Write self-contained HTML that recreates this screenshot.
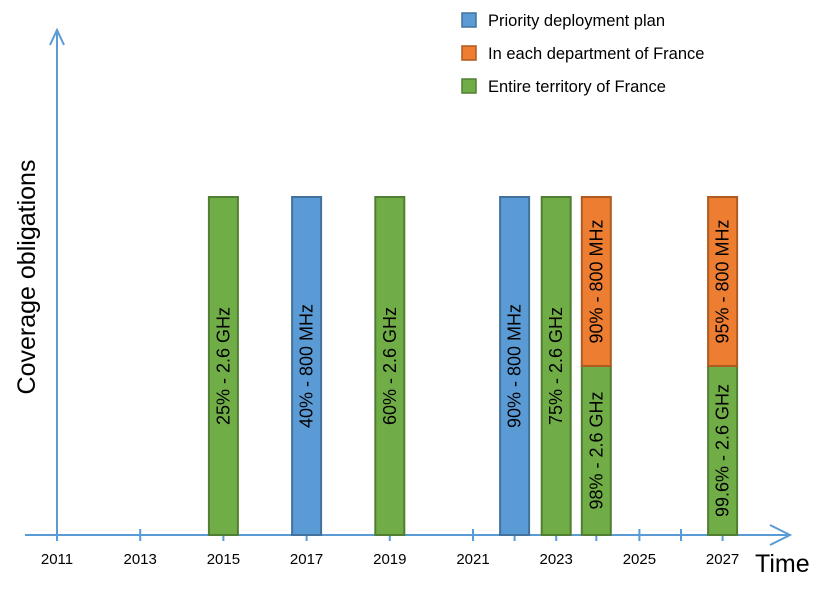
<!DOCTYPE html>
<html><head><meta charset="utf-8"><style>
body{margin:0;background:#fff}
svg text{font-family:"Liberation Sans",sans-serif}
</style></head><body>
<svg id="c" width="822" height="595" xmlns="http://www.w3.org/2000/svg"></svg>
<script>
const barYears=[2015,2017,2019,2022,2023,2024,2024,2027,2027];
const barBase=[0,0,0,0,0,0,50,0,50];
const barValues=[100,100,100,100,100,50,50,50,50];
const barSeries=[2,0,2,0,2,2,1,2,1];
const barLabels=["25% - 2.6 GHz","40% - 800 MHz","60% - 2.6 GHz","90% - 800 MHz","75% - 2.6 GHz","98% - 2.6 GHz","90% - 800 MHz","99.6% - 2.6 GHz","95% - 800 MHz"];
const tickYears=[2011,2013,2015,2017,2019,2021,2022,2023,2024,2025,2026,2027];
const tickLabels=["2011","2013","2015","2017","2019","2021","","2023","","2025","","2027"];
const seriesNames=["Priority deployment plan","In each department of France","Entire territory of France"];
const fills=["#5b9bd5","#ed7d31","#70ad47"],strokes=["#41719c","#ae5a21","#507e32"];
const NS="http://www.w3.org/2000/svg",svg=document.getElementById('c');
const x=y=>57+(y-2011)*41.6-(y===2024?1.5:0), yv=v=>535-v*3.38;
function el(t,a,p){const e=document.createElementNS(NS,t);for(const k in a)e.setAttribute(k,a[k]);(p||svg).appendChild(e);return e;}
const ax=el('g',{});

el('line',{x1:25,y1:535,x2:790,y2:535,stroke:'#5b9bd5','stroke-width':2},ax);
el('polyline',{points:'770,525 790,535 770,545',fill:'none',stroke:'#5b9bd5','stroke-width':2},ax);
const ay=el('g',{});

el('line',{x1:57,y1:535,x2:57,y2:30,stroke:'#5b9bd5','stroke-width':2},ay);
el('polyline',{points:'50,45 57,30 64,45',fill:'none',stroke:'#5b9bd5','stroke-width':2},ay);
tickYears.forEach((t,i)=>{
 const tk=el('line',{x1:x(t),y1:529,x2:x(t),y2:541,stroke:'#5b9bd5','stroke-width':2},ax);
 
 if(tickLabels[i]){const tl=el('text',{x:x(t),y:564,'text-anchor':'middle','font-size':15,fill:'#000'},ax);tl.textContent=tickLabels[i];
 }
});
barYears.forEach((yr,i)=>{
 const s=barSeries[i],cx=x(yr),y0=yv(barBase[i]+barValues[i]),y1=yv(barBase[i]);
 const g=el('g',{});
 
 el('rect',{x:cx-14.5,y:y0,width:29,height:y1-y0,fill:fills[s],stroke:strokes[s],'stroke-width':2},g);
 const cy=(y0+y1)/2;
 const t=el('text',{x:cx,y:cy,'text-anchor':'middle','dominant-baseline':'central','font-size':18,fill:'#000',transform:`rotate(-90 ${cx} ${cy})`},g);
 t.textContent=barLabels[i];
 
});
seriesNames.forEach((n,i)=>{
 const g=el('g',{});
 
 el('rect',{x:462,y:13+i*33,width:14,height:14,fill:fills[i],stroke:strokes[i],'stroke-width':1.5},g);
 const t=el('text',{x:488,y:26+i*33,'font-size':16.5,fill:'#000'},g);t.textContent=n;
});
const yt=el('text',{x:35,y:277,'text-anchor':'middle','font-size':25,fill:'#000',transform:'rotate(-90 35 277)'});
yt.textContent='Coverage obligations';
const xt=el('text',{x:755,y:572,'font-size':25,fill:'#000'});
xt.textContent='Time';
</script>
</body></html>
